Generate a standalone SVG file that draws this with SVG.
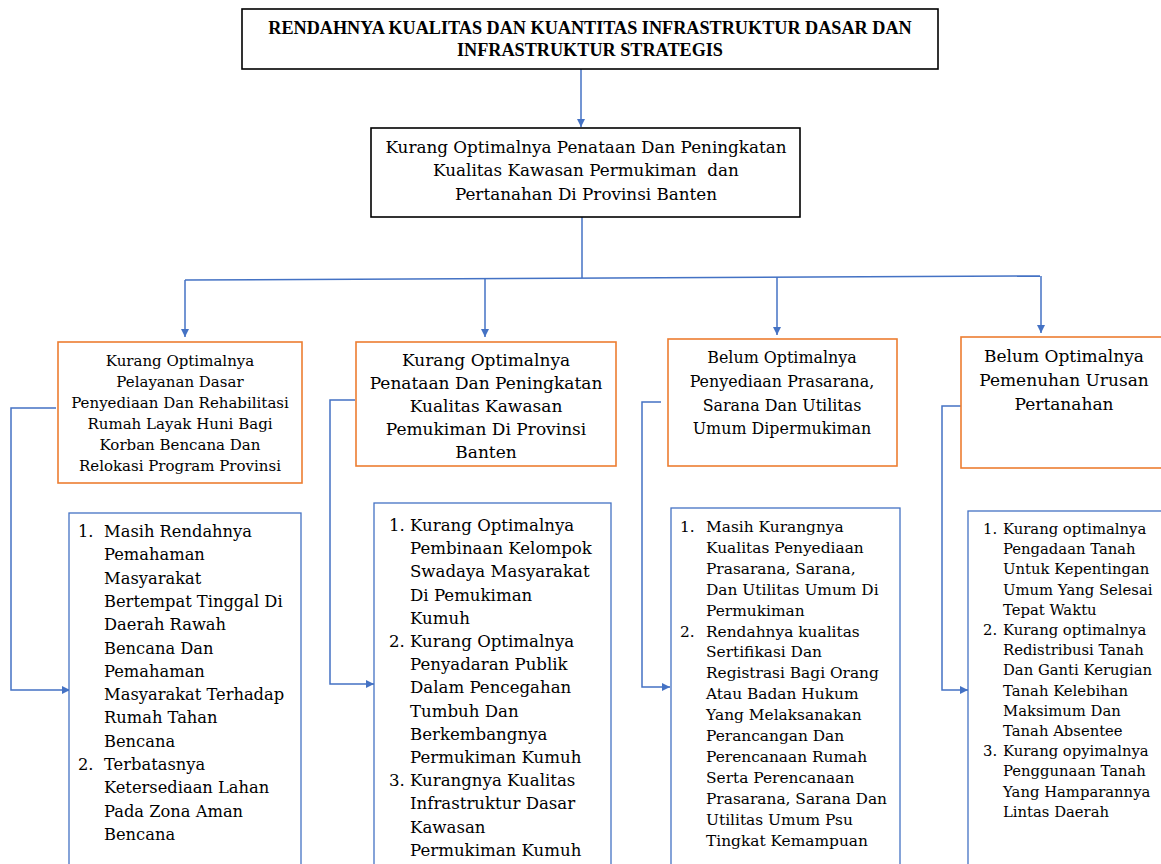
<svg xmlns="http://www.w3.org/2000/svg" width="1161" height="864" viewBox="0 0 1161 864">
<style>
.bg{fill:#fff}
.blk{fill:#fff;stroke:#000;stroke-width:1.6}
.org{fill:#fff;stroke:#ED7D31;stroke-width:1.6}
.blu{fill:#fff;stroke:#4472C4;stroke-width:1.3}
.con{fill:none;stroke:#4472C4;stroke-width:1.5}
.t{font-family:"DejaVu Serif","Liberation Serif",serif;fill:#000}
.c{text-anchor:middle}
.title{font-family:"Liberation Serif","DejaVu Serif",serif;font-weight:bold;font-size:18.2px;text-anchor:middle;fill:#000}
</style>
<defs>
<marker id="ah" viewBox="0 0 10 10" refX="10" refY="5" markerWidth="8" markerHeight="8" markerUnits="userSpaceOnUse" orient="auto">
<path d="M0,0 L10,5 L0,10 z" fill="#4472C4"/>
</marker>
</defs>
<rect class="bg" width="1161" height="864"/>

<g id="connectors">
<path class="con" d="M581,69 V127" marker-end="url(#ah)"/>
<path class="con" d="M582,217 V278"/>
<path class="con" d="M185,280 L1040,276"/>
<path class="con" d="M185,280 V337" marker-end="url(#ah)"/>
<path class="con" d="M485,279 V337" marker-end="url(#ah)"/>
<path class="con" d="M777,277 V335" marker-end="url(#ah)"/>
<path class="con" d="M1041,276 V333" marker-end="url(#ah)"/>
<path class="con" d="M56,408 H11 V690 H70" marker-end="url(#ah)"/>
<path class="con" d="M355,400 H330 V684 H374" marker-end="url(#ah)"/>
<path class="con" d="M661,402 H642 V687 H670" marker-end="url(#ah)"/>
<path class="con" d="M961,406 H942 V690 H968" marker-end="url(#ah)"/>
</g>

<g id="root">
<rect class="blk" x="242" y="9" width="696" height="60"/>
<text class="title" x="590" y="34">RENDAHNYA KUALITAS DAN KUANTITAS INFRASTRUKTUR DASAR DAN</text>
<text class="title" x="590" y="56">INFRASTRUKTUR STRATEGIS</text>
</g>

<g id="main">
<rect class="blk" x="371" y="128" width="429" height="89"/>
<g class="t c" font-size="16.8">
<text x="586" y="152.5">Kurang Optimalnya Penataan Dan Peningkatan</text>
<text x="586" y="176" xml:space="preserve">Kualitas Kawasan Permukiman  dan</text>
<text x="586" y="199.5">Pertanahan Di Provinsi Banten</text>
</g>
</g>

<g id="cause1">
<rect class="org" x="58" y="342" width="244" height="141"/>
<g class="t c" font-size="15">
<text x="180" y="365.5">Kurang Optimalnya</text>
<text x="180" y="386.5">Pelayanan Dasar</text>
<text x="180" y="407.5">Penyediaan Dan Rehabilitasi</text>
<text x="180" y="428.5">Rumah Layak Huni Bagi</text>
<text x="180" y="449.5">Korban Bencana Dan</text>
<text x="180" y="470.5">Relokasi Program Provinsi</text>
</g>
</g>

<g id="cause2">
<rect class="org" x="356" y="342" width="260" height="124"/>
<g class="t c" font-size="17">
<text x="486" y="366">Kurang Optimalnya</text>
<text x="486" y="389">Penataan Dan Peningkatan</text>
<text x="486" y="412">Kualitas Kawasan</text>
<text x="486" y="435">Pemukiman Di Provinsi</text>
<text x="486" y="458">Banten</text>
</g>
</g>

<g id="cause3">
<rect class="org" x="668" y="339" width="229" height="127"/>
<g class="t c" font-size="15.9">
<text x="782" y="362.5">Belum Optimalnya</text>
<text x="782" y="386.5">Penyediaan Prasarana,</text>
<text x="782" y="410.5">Sarana Dan Utilitas</text>
<text x="782" y="433.5">Umum Dipermukiman</text>
</g>
</g>

<g id="cause4">
<rect class="org" x="961" y="337" width="210" height="131"/>
<g class="t c" font-size="17">
<text x="1064" y="362">Belum Optimalnya</text>
<text x="1064" y="386">Pemenuhan Urusan</text>
<text x="1064" y="410">Pertanahan</text>
</g>
</g>

<g id="detail1">
<rect class="blu" x="69" y="513" width="232" height="360"/>
<g class="t" font-size="16.3">
<text x="78" y="537">1.</text>
<text x="104" y="537">Masih Rendahnya</text>
<text x="104" y="560.3">Pemahaman</text>
<text x="104" y="583.6">Masyarakat</text>
<text x="104" y="606.9">Bertempat Tinggal Di</text>
<text x="104" y="630.2">Daerah Rawah</text>
<text x="104" y="653.5">Bencana Dan</text>
<text x="104" y="676.8">Pemahaman</text>
<text x="104" y="700.1">Masyarakat Terhadap</text>
<text x="104" y="723.4">Rumah Tahan</text>
<text x="104" y="746.7">Bencana</text>
<text x="78" y="770">2.</text>
<text x="104" y="770">Terbatasnya</text>
<text x="104" y="793.3">Ketersediaan Lahan</text>
<text x="104" y="816.6">Pada Zona Aman</text>
<text x="104" y="839.9">Bencana</text>
</g>
</g>

<g id="detail2">
<rect class="blu" x="374" y="503" width="237" height="370"/>
<g class="t" font-size="16.6">
<text x="389" y="531">1.</text>
<text x="410" y="531">Kurang Optimalnya</text>
<text x="410" y="554.2">Pembinaan Kelompok</text>
<text x="410" y="577.4">Swadaya Masyarakat</text>
<text x="410" y="600.6">Di Pemukiman</text>
<text x="410" y="623.8">Kumuh</text>
<text x="389" y="647">2.</text>
<text x="410" y="647">Kurang Optimalnya</text>
<text x="410" y="670.2">Penyadaran Publik</text>
<text x="410" y="693.4">Dalam Pencegahan</text>
<text x="410" y="716.6">Tumbuh Dan</text>
<text x="410" y="739.8">Berkembangnya</text>
<text x="410" y="763">Permukiman Kumuh</text>
<text x="389" y="786.2">3.</text>
<text x="410" y="786.2">Kurangnya Kualitas</text>
<text x="410" y="809.4">Infrastruktur Dasar</text>
<text x="410" y="832.6">Kawasan</text>
<text x="410" y="855.8">Permukiman Kumuh</text>
</g>
</g>

<g id="detail3">
<rect class="blu" x="671" y="508" width="229" height="365"/>
<g class="t" font-size="15.4">
<text x="680" y="532">1.</text>
<text x="706" y="532">Masih Kurangnya</text>
<text x="706" y="552.9">Kualitas Penyediaan</text>
<text x="706" y="573.8">Prasarana, Sarana,</text>
<text x="706" y="594.7">Dan Utilitas Umum Di</text>
<text x="706" y="615.6">Permukiman</text>
<text x="680" y="636.5">2.</text>
<text x="706" y="636.5">Rendahnya kualitas</text>
<text x="706" y="657.4">Sertifikasi Dan</text>
<text x="706" y="678.3">Registrasi Bagi Orang</text>
<text x="706" y="699.2">Atau Badan Hukum</text>
<text x="706" y="720.1">Yang Melaksanakan</text>
<text x="706" y="741">Perancangan Dan</text>
<text x="706" y="761.9">Perencanaan Rumah</text>
<text x="706" y="782.8">Serta Perencanaan</text>
<text x="706" y="803.7">Prasarana, Sarana Dan</text>
<text x="706" y="824.6">Utilitas Umum Psu</text>
<text x="706" y="845.5">Tingkat Kemampuan</text>
</g>
</g>

<g id="detail4">
<rect class="blu" x="968" y="511" width="210" height="362"/>
<g class="t" font-size="14.8">
<text x="983" y="534">1.</text>
<text x="1003" y="534">Kurang optimalnya</text>
<text x="1003" y="554.2">Pengadaan Tanah</text>
<text x="1003" y="574.4">Untuk Kepentingan</text>
<text x="1003" y="594.6">Umum Yang Selesai</text>
<text x="1003" y="614.8">Tepat Waktu</text>
<text x="983" y="635">2.</text>
<text x="1003" y="635">Kurang optimalnya</text>
<text x="1003" y="655.2">Redistribusi Tanah</text>
<text x="1003" y="675.4">Dan Ganti Kerugian</text>
<text x="1003" y="695.6">Tanah Kelebihan</text>
<text x="1003" y="715.8">Maksimum Dan</text>
<text x="1003" y="736">Tanah Absentee</text>
<text x="983" y="756.2">3.</text>
<text x="1003" y="756.2">Kurang opyimalnya</text>
<text x="1003" y="776.4">Penggunaan Tanah</text>
<text x="1003" y="796.6">Yang Hamparannya</text>
<text x="1003" y="816.8">Lintas Daerah</text>
</g>
</g>
</svg>
